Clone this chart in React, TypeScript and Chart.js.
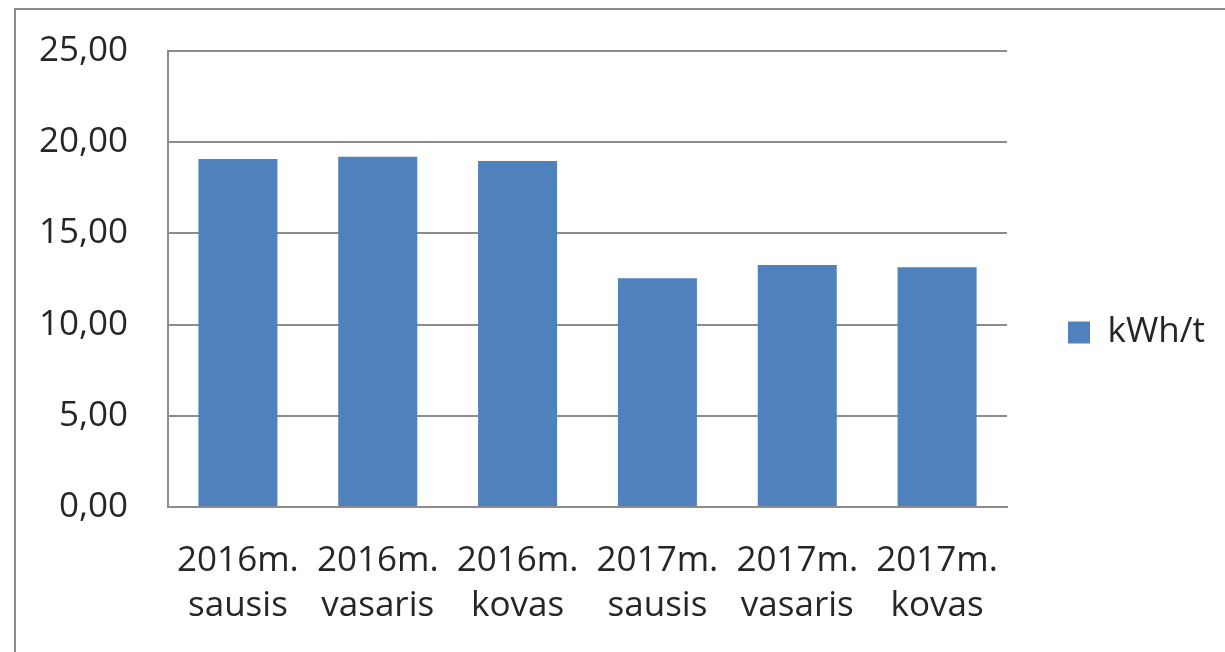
import React, { useEffect, useRef } from "react";
import { Chart, registerables } from "chart.js";

Chart.register(...registerables);

const categories: string[][] = [
  ["2016m.", "sausis"],
  ["2016m.", "vasaris"],
  ["2016m.", "kovas"],
  ["2017m.", "sausis"],
  ["2017m.", "vasaris"],
  ["2017m.", "kovas"],
];
const seriesLabel = "kWh/t";
const seriesValues: number[] = [19.08, 19.2, 18.97, 12.54, 13.27, 13.14];
const yTicks: number[] = [0, 5, 10, 15, 20, 25];

const FONT = "'Open Sans', 'DejaVu Sans', sans-serif";
const TEXT = "#262626";
const GRID = "#8c8c8c";
const BAR = "#4F81BD";

const legendShift = {
  id: "legendShift",
  afterLayout(chart: any) {
    const lg = chart.legend;
    if (lg) {
      lg.top -= 19;
      lg.bottom -= 19;
    }
  },
};

export default function App() {
  const ref = useRef<HTMLCanvasElement | null>(null);

  useEffect(() => {
    if (!ref.current) return;
    const chart = new Chart(ref.current, {
      type: "bar",
      data: {
        labels: categories,
        datasets: [
          {
            label: seriesLabel,
            data: seriesValues,
            backgroundColor: BAR,
            borderWidth: 0,
            categoryPercentage: 1,
            barPercentage: 0.565,
          },
        ],
      },
      plugins: [legendShift],
      options: {
        responsive: false,
        animation: false,
        layout: { padding: { left: 0, right: 10, top: 51, bottom: 0 } },
        plugins: {
          tooltip: { enabled: false },
          legend: {
            position: "right",
            labels: {
              font: { family: FONT, size: 35 },
              color: TEXT,
              boxWidth: 22,
              boxHeight: 22,
              padding: 61,
            },
          },
        },
        scales: {
          x: {
            grid: { display: false, drawTicks: false },
            border: { display: true, color: GRID, width: 2 },
            ticks: {
              font: { family: FONT, size: 35, lineHeight: 1.3 },
              color: TEXT,
              padding: 31,
              maxRotation: 0,
              autoSkip: false,
            },
            afterFit: (s: any) => {
              s.height = 145;
            },
          },
          y: {
            min: 0,
            max: 25,
            afterBuildTicks: (s: any) => {
              s.ticks = yTicks.map((v) => ({ value: v }));
            },
            grid: { color: GRID, lineWidth: 2, drawTicks: false },
            border: { display: true, color: GRID, width: 2 },
            ticks: {
              font: { family: FONT, size: 35 },
              color: TEXT,
              padding: 40,
              callback: (v: any) => Number(v).toFixed(2).replace(".", ","),
            },
            afterFit: (s: any) => {
              s.width = 168;
              s.paddingTop = 0;
              s.paddingBottom = 0;
            },
          },
        },
      },
    });
    return () => chart.destroy();
  }, []);

  return (
    <div>
      <canvas
        ref={ref}
        width={1225}
        height={652}
        style={{ position: "fixed", left: 0, top: 0, width: 1225, height: 652, background: "#fff" }}
      />
      <div
        style={{
          position: "fixed",
          left: 14,
          top: 8,
          right: -20,
          bottom: -20,
          borderLeft: "2px solid #8c8c8c",
          borderTop: "2px solid #8c8c8c",
          pointerEvents: "none",
        }}
      />
    </div>
  );
}
